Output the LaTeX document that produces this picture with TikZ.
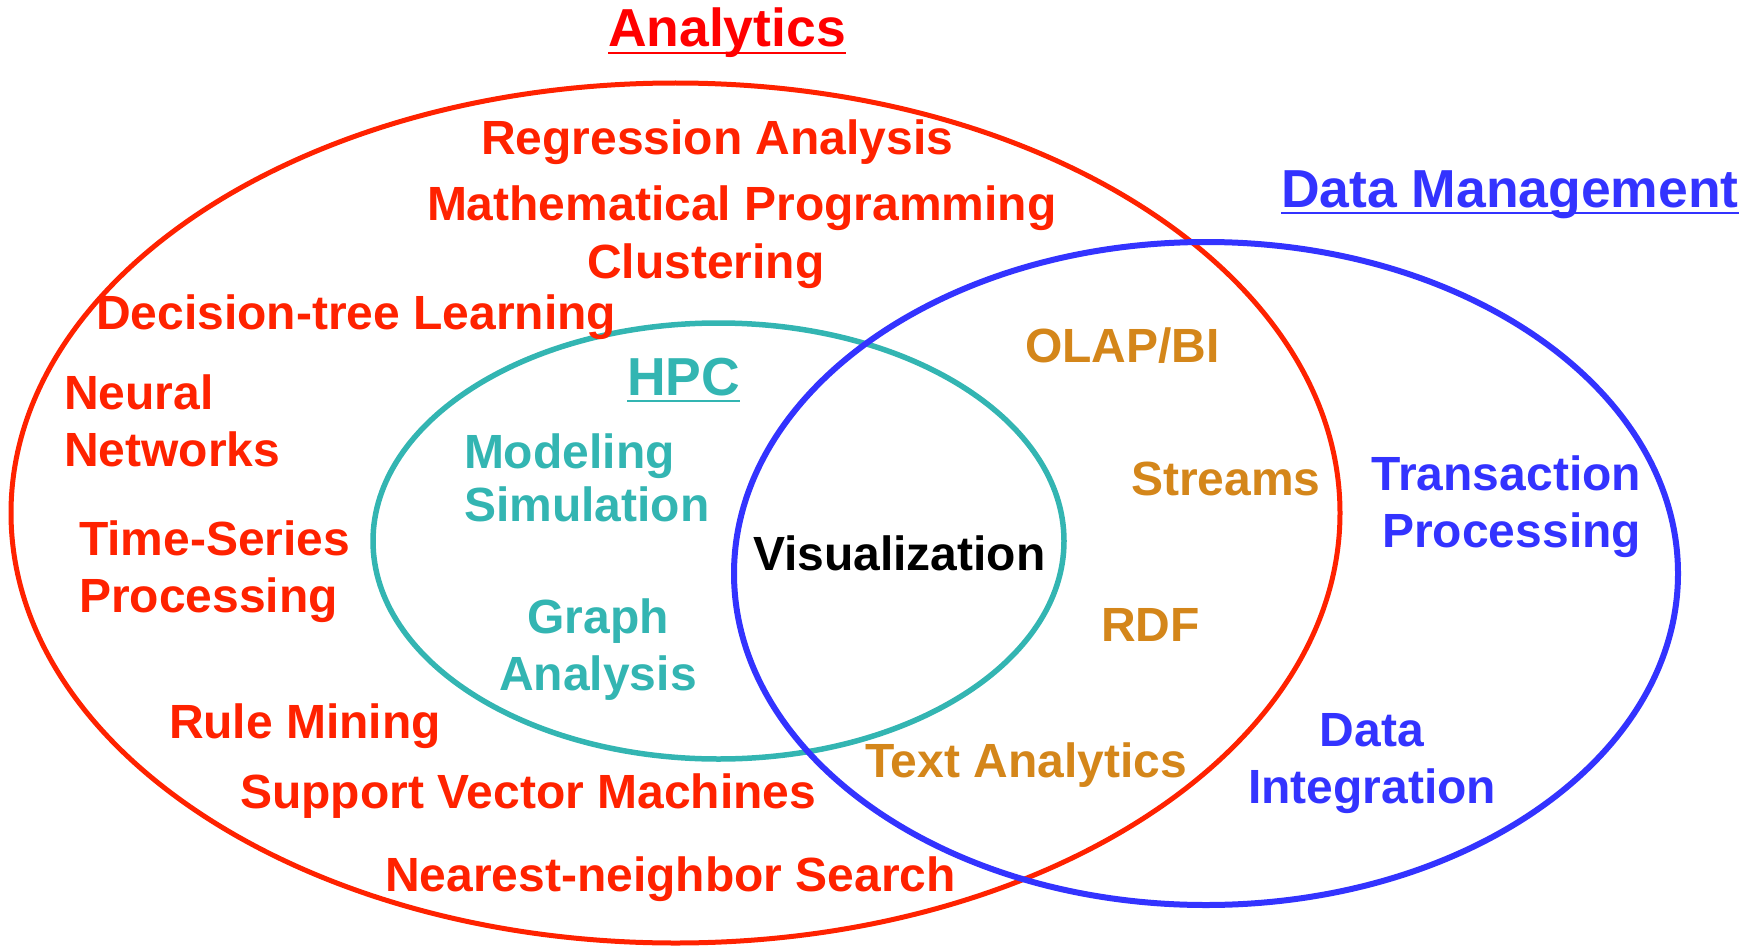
\documentclass[tikz,border=0pt]{standalone}
\usepackage{fontspec}
\setmainfont{Liberation Sans}
\definecolor{anred}{RGB}{255,34,0}
\definecolor{titlered}{RGB}{255,0,0}
\definecolor{dmblue}{RGB}{51,51,255}
\definecolor{hpcteal}{RGB}{51,181,178}
\definecolor{goldtxt}{RGB}{212,134,26}
\newcommand{\stk}[2]{\begin{tabular}[t]{@{}#1@{}}#2\end{tabular}}
\tikzset{
  lab/.style={inner sep=0pt, outer sep=0pt, font=\fontsize{48}{57}\selectfont\bfseries},
  ttl/.style={inner sep=0pt, outer sep=0pt, font=\fontsize{53.5}{60}\selectfont\bfseries},
  ring/.style={line width=#1},
}
\begin{document}
\begin{tikzpicture}[x=1pt,y=-1pt]
\useasboundingbox (0,0) rectangle (1758,947);
% ellipses
\draw[ring=5.5, hpcteal] (718.5,541) ellipse [x radius=345.5, y radius=218];
\draw[ring=5, anred] (675.5,513) ellipse [x radius=664.5, y radius=430];
\draw[ring=6, dmblue] (1206,573.5) ellipse [x radius=472, y radius=331.5];
% titles
\node[ttl, titlered, anchor=base west] (an) at (608,47) {Analytics};
\draw[titlered, line width=2.5] ([yshift=-6]an.base west) -- ([yshift=-6]an.base east);
\node[ttl, dmblue, anchor=base west] (dm) at (1281,207) {Data Management};
\draw[dmblue, line width=2.5] ([yshift=-6]dm.base west) -- ([yshift=-6]dm.base east);
\node[ttl, hpcteal, anchor=base west] (hpc) at (627,395) {HPC};
\draw[hpcteal, line width=2.5] ([yshift=-6]hpc.base west) -- ([yshift=-6]hpc.base east);
% analytics labels
\begin{scope}[every node/.append style={lab, anred, anchor=base west}]
\node (reg) at (481,154) {Regression Analysis};
\node (math) at (427,220) {Mathematical Programming};
\node (clus) at (587,278) {Clustering};
\node (dtree) at (96,329) {Decision-tree Learning};
\node (neural) at (64,409) {\stk{l}{Neural\\Networks}};
\node (ts) at (79,555) {\stk{l}{Time-Series\\Processing}};
\node (rule) at (169,738) {Rule Mining};
\node (svm) at (240,808) {Support Vector Machines};
\node (nn) at (385,891) {Nearest-neighbor Search};
\end{scope}
% HPC labels
\node[lab, hpcteal, anchor=base west, font=\fontsize{48}{53}\selectfont\bfseries] (model) at (464,468) {\stk{l}{Modeling\\Simulation}};
\node[lab, hpcteal, anchor=base] (graph) at (598,633) {\stk{c}{Graph\\Analysis}};
% center
\node[lab, black, anchor=base west] (vis) at (753,570) {Visualization};
% gold labels
\begin{scope}[every node/.append style={lab, goldtxt, anchor=base west}]
\node (olap) at (1025,362) {OLAP/BI};
\node (streams) at (1131,495) {Streams};
\node (rdf) at (1101,641) {RDF};
\node (text) at (865,777) {Text Analytics};
\end{scope}
% data management labels
\node[lab, dmblue, anchor=base east] (trans) at (1641,490) {\stk{r}{Transaction\\Processing}};
\node[lab, dmblue, anchor=base] (dint) at (1372,746) {\stk{c}{Data\\Integration}};
\end{tikzpicture}
\end{document}
